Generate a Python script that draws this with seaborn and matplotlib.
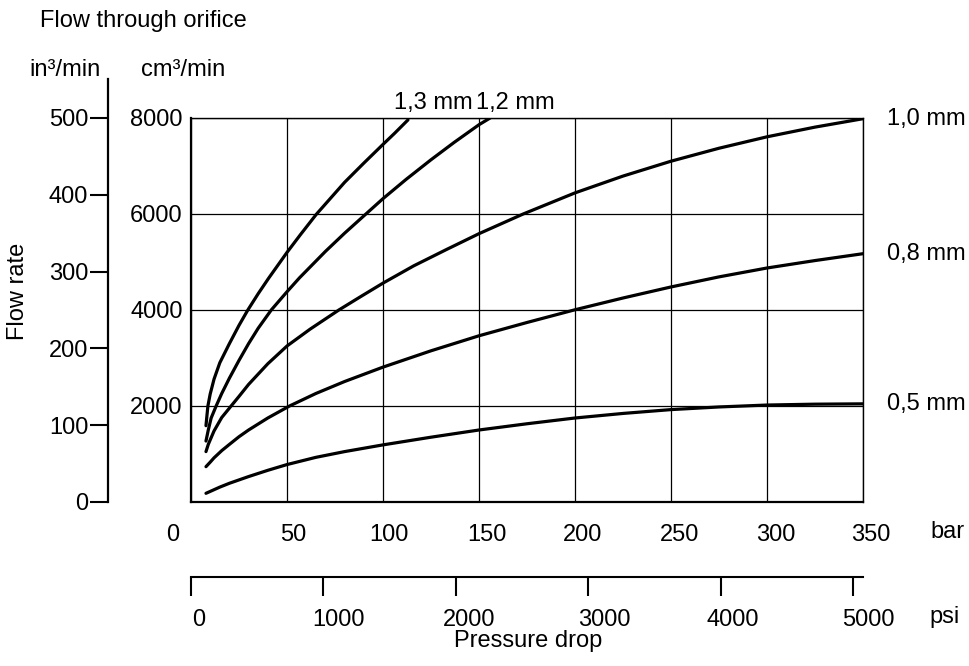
import numpy as np
import pandas as pd
import matplotlib
matplotlib.use('Agg')
import matplotlib.pyplot as plt
import seaborn as sns
from matplotlib.transforms import ScaledTranslation

# Data (pressure drop in bar, flow in cm3/min)
d13_bar = [7.8, 8.3, 8.8, 10, 12, 15, 20, 25, 29.6, 35, 40.4, 50, 57, 65.2, 80, 90, 100,
           106, 113]
d13_flow = [1590, 1800, 2000, 2250, 2560, 2900, 3300, 3680, 4000, 4340, 4660, 5200, 5570,
            5990, 6660, 7060, 7450, 7680, 7960]

d12_bar = [7.8, 9, 10.5, 13.1, 16, 20, 25, 30, 35, 41.8, 50, 56.5, 70, 80, 88.6, 100, 112,
           125, 137, 150, 155.8]
d12_flow = [1270, 1500, 1750, 2000, 2260, 2580, 2950, 3300, 3620, 4000, 4380, 4670, 5220,
            5600, 5910, 6320, 6720, 7130, 7490, 7860, 8000]

d10_bar = [7.8, 9, 12, 16, 20.9, 25, 30, 40, 50, 62, 77, 88, 100, 116, 132.9, 150, 173, 200,
           225, 250, 275, 300, 325, 350]
d10_flow = [1050, 1200, 1480, 1760, 2000, 2200, 2450, 2880, 3250, 3600, 4000, 4270, 4560,
            4920, 5257, 5590, 6000, 6440, 6790, 7100, 7370, 7608, 7810, 7985]

d08_bar = [7.8, 10, 12, 16, 20, 25, 30, 40, 51.3, 65, 80, 100, 125, 150, 175, 200, 225, 250,
           275, 300, 325, 350]
d08_flow = [736, 830, 920, 1070, 1200, 1360, 1500, 1750, 2000, 2260, 2510, 2810, 3150, 3463,
            3740, 4005, 4250, 4480, 4690, 4875, 5030, 5173]

d05_bar = [7.8, 15, 20, 30, 40, 50, 65, 80, 100, 125, 150, 175, 200, 225, 250, 275, 300,
           325, 350]
d05_flow = [181, 310, 390, 530, 660, 780, 930, 1050, 1190, 1350, 1500, 1630, 1750, 1845,
            1925, 1980, 2020, 2038, 2045]

orifices = ['1,3 mm', '1,2 mm', '1,0 mm', '0,8 mm', '0,5 mm']
bar_ticks = [0, 50, 100, 150, 200, 250, 300, 350]
psi_ticks = [0, 1000, 2000, 3000, 4000, 5000]
cm3_ticks = [2000, 4000, 6000, 8000]
in3_ticks = [0, 100, 200, 300, 400, 500]

BAR_TO_PSI = 14.5038
CM3_PER_IN3 = 16.0

sns.set_style('white')
plt.rcParams['font.family'] = ['Liberation Sans', 'DejaVu Sans']
plt.rcParams['font.size'] = 17
plt.rcParams['text.color'] = 'black'
plt.rcParams['xtick.color'] = 'black'
plt.rcParams['ytick.color'] = 'black'
plt.rcParams['lines.solid_joinstyle'] = 'round'

df = pd.concat([
    pd.DataFrame({'bar': b, 'flow': f, 'orifice': name})
    for name, b, f in zip(orifices,
                          [d13_bar, d12_bar, d10_bar, d08_bar, d05_bar],
                          [d13_flow, d12_flow, d10_flow, d08_flow, d05_flow])
])

W, H = 969, 666
fig = plt.figure(figsize=(W / 100, H / 100), dpi=100)


def px(x, y):
    return x / W, 1 - y / H


# main chart box
ax = fig.add_axes([191 / W, (H - 502) / H, 672 / W, 384 / H])
sns.lineplot(data=df, x='bar', y='flow', hue='orifice', palette=['black'] * 5,
             estimator=None, sort=False, legend=False, linewidth=2.3, ax=ax)
ax.set_xlim(bar_ticks[0], bar_ticks[-1])
ax.set_ylim(0, cm3_ticks[-1])
ax.set_xticks(bar_ticks)
ax.set_xticklabels([str(t) for t in bar_ticks])
ax.set_yticks(cm3_ticks)
ax.set_yticklabels([str(t) for t in cm3_ticks])
ax.grid(True, color='black', linewidth=0.9)
ax.set_xlabel('')
ax.set_ylabel('')
ax.tick_params(axis='x', length=0, pad=16)
ax.tick_params(axis='y', length=0, pad=6)
for side in ['left', 'bottom']:
    ax.spines[side].set_linewidth(1.6)
for side in ['top', 'right']:
    ax.spines[side].set_linewidth(1.0)
for sp in ax.spines.values():
    sp.set_color('black')

# bar labels sit a little right of their grid lines
for tick, dx in zip(ax.xaxis.get_major_ticks(), [-18, 6, 6, 8, 8, 9, 9, 8]):
    tick.label1.set_transform(tick.label1.get_transform()
                              + ScaledTranslation(dx / 100, 0, fig.dpi_scale_trans))

# psi axis under the bar axis
psi_ax = ax.secondary_xaxis(-0.195, functions=(lambda b: b * BAR_TO_PSI,
                                                lambda p: p / BAR_TO_PSI))
psi_ax.set_xticks(psi_ticks)
psi_ax.set_xticklabels([str(t) for t in psi_ticks])
psi_ax.tick_params(direction='out', bottom=True, length=14, width=1.5, pad=9)
psi_ax.spines['bottom'].set_linewidth(1.5)
psi_ax.spines['bottom'].set_color('black')
for tick, dx in zip(psi_ax.xaxis.get_major_ticks(), [8, 15, 13, 16, 12, 15]):
    tick.label1.set_transform(tick.label1.get_transform()
                              + ScaledTranslation(dx / 100, 0, fig.dpi_scale_trans))

# in3/min axis on the far left
in_h = 502 - 79
ax_in = fig.add_axes([107.7 / W, (H - 502) / H, 0.0001, in_h / H])
ax_in.set_ylim(0, cm3_ticks[-1] / CM3_PER_IN3 * in_h / 384)
ax_in.set_yticks(in3_ticks)
ax_in.set_yticklabels([str(t) for t in in3_ticks])
ax_in.set_xticks([])
ax_in.patch.set_visible(False)
for side in ['top', 'right', 'bottom']:
    ax_in.spines[side].set_visible(False)
ax_in.spines['left'].set_linewidth(1.6)
ax_in.spines['left'].set_color('black')
ax_in.tick_params(axis='y', left=True, direction='out', length=13, width=1.5, pad=1)

# curve labels
for name, b, f in zip(orifices[:2], [d13_bar, d12_bar], [d13_flow, d12_flow]):
    ax.annotate(name, xy=(b[-1], cm3_ticks[-1]), xytext=(-10, 11), textcoords='offset points',
                ha='left', va='center', annotation_clip=False)
for name, b, f in zip(orifices[2:], [d10_bar, d08_bar, d05_bar],
                      [d10_flow, d08_flow, d05_flow]):
    ax.annotate(name, xy=(b[-1], f[-1]), xytext=(17, 0), textcoords='offset points',
                ha='left', va='center', annotation_clip=False)

fig.text(*px(40, 21), 'Flow through orifice', ha='left', va='center')
fig.text(*px(65, 70), 'in³/min', ha='center', va='center')
fig.text(*px(183, 70), 'cm³/min', ha='center', va='center')
fig.text(*px(18, 291), 'Flow rate', ha='center', va='center', rotation=90)
fig.text(*px(948, 532), 'bar', ha='center', va='center')
fig.text(*px(945, 617), 'psi', ha='center', va='center')
fig.text(*px(528, 641), 'Pressure drop', ha='center', va='center')

fig.savefig('out.png', dpi=100, facecolor='white')
